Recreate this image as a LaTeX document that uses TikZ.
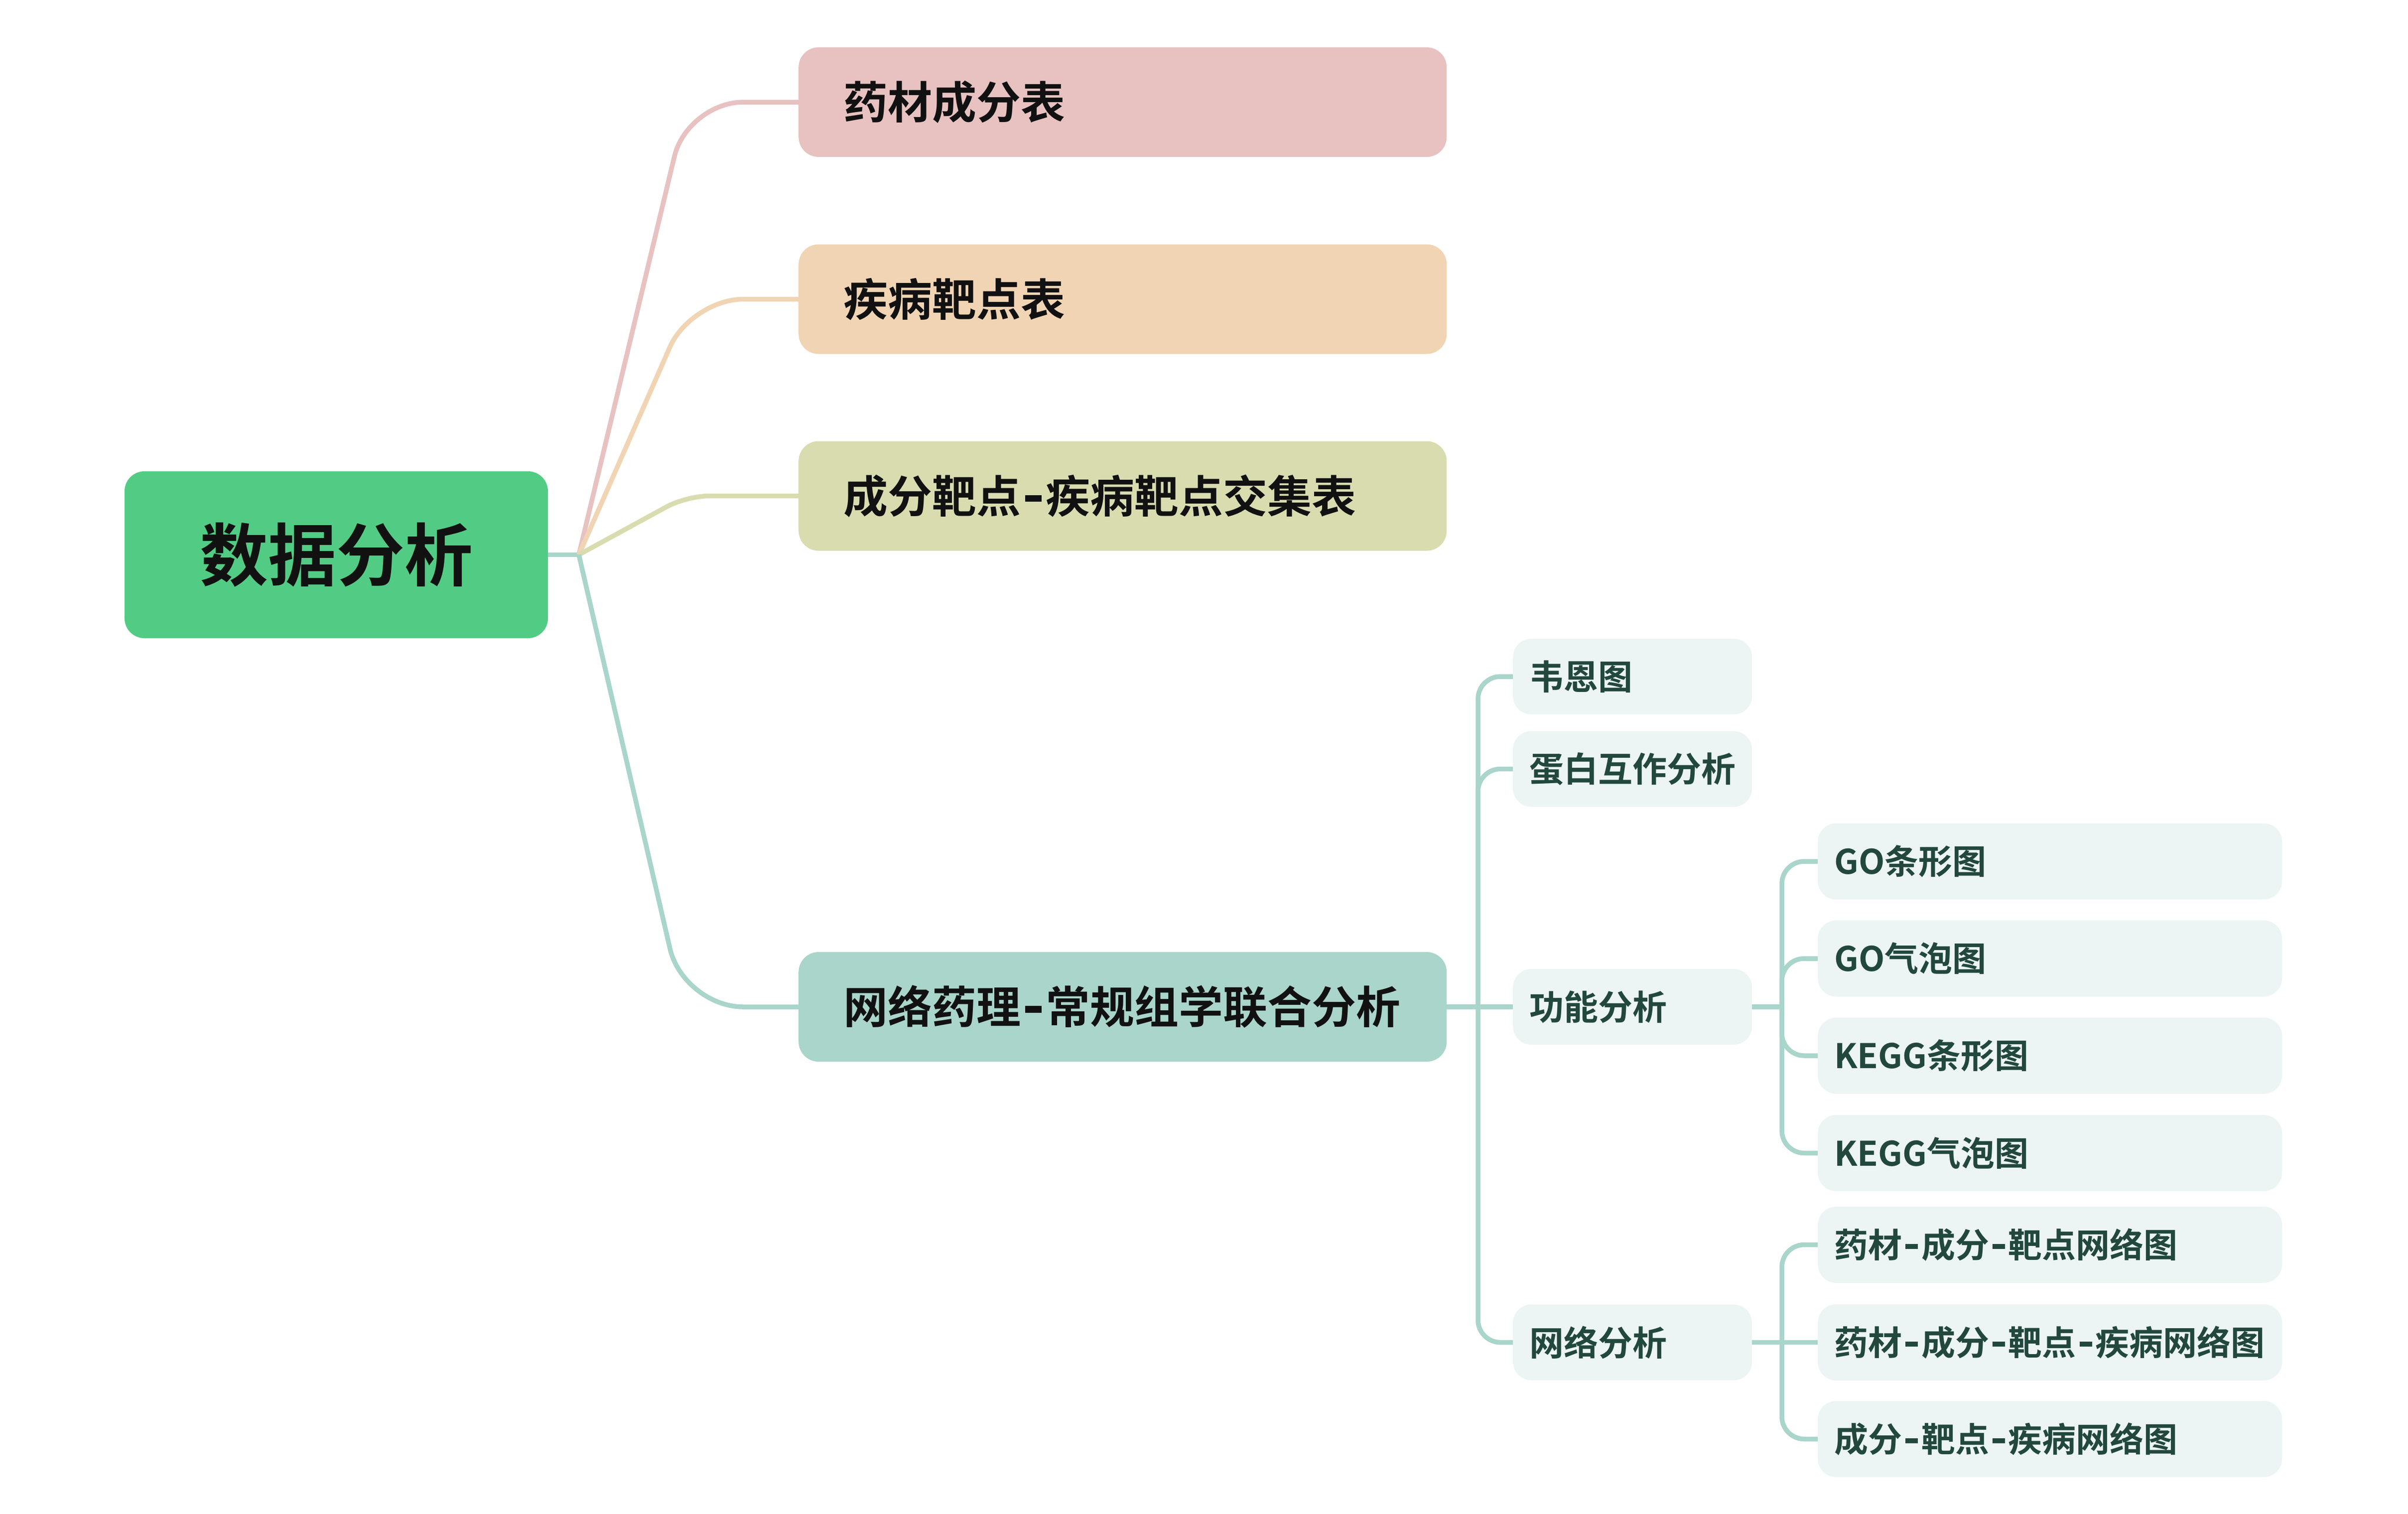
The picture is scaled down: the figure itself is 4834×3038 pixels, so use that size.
\documentclass[tikz,border=0pt]{standalone}
\usepackage{fontspec}
\newfontfamily\cjkb{Noto Sans CJK SC Bold}
\newcommand{\hy}{\kern0.1em\rule[0.25em]{0.37em}{0.15em}\kern0.1em}
\definecolor{rootc}{HTML}{52CC84}
\definecolor{pinkc}{HTML}{E7C2C1}
\definecolor{orangec}{HTML}{F1D4B3}
\definecolor{olivec}{HTML}{D9DCAF}
\definecolor{tealc}{HTML}{A9D5CB}
\definecolor{lightc}{HTML}{ECF5F3}
\definecolor{darkt}{HTML}{22483D}
\definecolor{blackt}{HTML}{111111}
\tikzset{
  rootbox/.style={fill=rootc, rounded corners=40pt, minimum width=850pt, minimum height=335pt, inner sep=0pt, text=blackt, font=\cjkb\fontsize{137}{160}\selectfont},
  lonebox/.style={anchor=west, rounded corners=40pt, minimum width=1301pt, minimum height=220pt, inner xsep=90pt, inner ysep=0pt, text width=1121pt, align=left, text=blackt, font=\cjkb\fontsize{89}{100}\selectfont},
  ltwobox/.style={anchor=west, fill=lightc, rounded corners=37pt, minimum width=480pt, minimum height=152pt, inner xsep=33pt, inner ysep=0pt, text width=414pt, align=left, text=darkt, font=\cjkb\fontsize{69}{80}\selectfont},
  lthreebox/.style={anchor=west, fill=lightc, rounded corners=37pt, minimum width=932pt, minimum height=153pt, inner xsep=33pt, inner ysep=0pt, text width=866pt, align=left, text=darkt, font=\cjkb\fontsize{68}{80}\selectfont},
  conn/.style={line width=9.5pt, line cap=butt, line join=round},
}
\begin{document}
\begin{tikzpicture}[x=1pt, y=-1pt]
\useasboundingbox (0,0) rectangle (4834,3038);
% root
\node[rootbox] (root) at (675,1113.5) {数据分析};
% level 1
\node[lonebox, fill=pinkc] (a1) at (1603,205) {药材成分表};
\node[lonebox, fill=orangec] (a2) at (1603,600.5) {疾病靶点表};
\node[lonebox, fill=olivec] (a3) at (1603,995.5) {成分靶点\hy 疾病靶点交集表};
\node[lonebox, fill=tealc] (a4) at (1603,2021) {网络药理\hy 常规组学联合分析};
% level 2
\node[ltwobox] (b1) at (3037,1358) {韦恩图};
\node[ltwobox] (b2) at (3037,1543.5) {蛋白互作分析};
\node[ltwobox] (b3) at (3037,2021) {功能分析};
\node[ltwobox] (b4) at (3037,2694.5) {网络分析};
% level 3
\node[lthreebox] (c1) at (3649,1729) {GO条形图};
\node[lthreebox] (c2) at (3649,1924) {GO气泡图};
\node[lthreebox] (c3) at (3649,2119) {KEGG条形图};
\node[lthreebox] (c4) at (3649,2314.5) {KEGG气泡图};
\node[lthreebox] (d1) at (3649,2498.5) {药材\hy 成分\hy 靶点网络图};
\node[lthreebox] (d2) at (3649,2694.5) {药材\hy 成分\hy 靶点\hy 疾病网络图};
\node[lthreebox] (d3) at (3649,2888.5) {成分\hy 靶点\hy 疾病网络图};
% junctions
\coordinate (J) at (1162,1113.5);
\coordinate (t2) at (2967,2021);
\coordinate (t3a) at (3577,2021);
\coordinate (t3b) at (3577,2694.5);
% root to junction
\draw[conn, tealc] (root.east) -- (J);
% level 1 connectors
\draw[conn, pinkc, rounded corners=112pt] (J) -- (1380,205) -- (a1.west);
\draw[conn, orangec, rounded corners=105pt] (J) -- (1387,600.5) -- (a2.west);
\draw[conn, olivec, rounded corners=45pt] (J) -- (1378,995.5) -- (a3.west);
\draw[conn, tealc, rounded corners=120pt] (J) -- (1372,2021) -- (a4.west);
% level 2 connectors
\draw[conn, tealc] (a4.east) -- (b3.west);
\draw[conn, tealc, rounded corners=45pt] (t2) -- (t2 |- b1.west) -- (b1.west);
\draw[conn, tealc, rounded corners=45pt] (t2) -- (t2 |- b2.west) -- (b2.west);
\draw[conn, tealc, rounded corners=45pt] (t2) -- (t2 |- b4.west) -- (b4.west);
% level 3 connectors
\draw[conn, tealc] (b3.east) -- (t3a);
\foreach \c in {c1,c2,c3,c4}
  \draw[conn, tealc, rounded corners=45pt] (t3a) -- (t3a |- \c.west) -- (\c.west);
\draw[conn, tealc] (b4.east) -- (d2.west);
\draw[conn, tealc, rounded corners=45pt] (t3b) -- (t3b |- d1.west) -- (d1.west);
\draw[conn, tealc, rounded corners=45pt] (t3b) -- (t3b |- d3.west) -- (d3.west);
\end{tikzpicture}
\end{document}
